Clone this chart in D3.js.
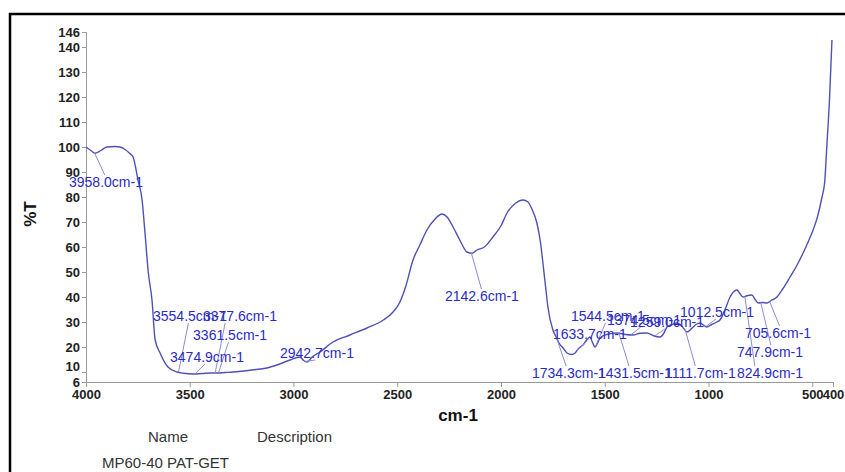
<!DOCTYPE html>
<meta charset="utf-8">
<style>
  body { margin: 0; background: #fff; }
  svg { font-family: Arial, "Liberation Sans", sans-serif; }
</style>
<script src="https://d3js.org/d3.v7.min.js"></script>
<svg width="845" height="472"></svg>
<script>
// spectrum
const wavenumbers = [4000,3975,3957,3930,3900,3860,3836,3812,3790,3773,3750,3730,3716,3700,3682,3667,3643,3605,3561,3530,3484,3440,3400,3369,3330,3292,3200,3128,3080,3017,2969,2950,2935,2910,2872,2810,2728,2646,2567,2520,2487,2460,2424,2390,2357,2320,2284,2260,2231,2200,2164,2140,2116,2080,2039,2000,1971,1930,1894,1870,1850,1827,1810,1798,1785,1774,1750,1734,1720,1701,1680,1660,1643,1625,1605,1585,1571,1560,1547,1535,1523,1490,1441,1400,1364,1330,1297,1265,1234,1215,1200,1175,1152,1125,1104,1080,1060,1040,1020,1008,985,960,945,920,896,880,863,850,834,815,791,775,761,740,718,700,670,640,607,575,544,520,496,475,453,440,430,417,405];
const transmittance = [100,98.5,97.5,98.5,100,100.2,100,99,97.5,96,87,79,66,50,38.8,23,17.6,12,10,9.5,9.2,9.4,9.6,9.6,9.8,10,10.8,11.6,12.8,14.8,16,14.5,14,16,18,22,24.8,27.6,30.8,34,38,44,54.8,61,66.8,71,73.2,72,68,63,58,57.5,58.8,60,64,68.5,73.6,77.5,78.8,78,75,69.6,62,53.6,44,36,26.8,24,21.5,19.6,17.5,17,17.6,19.5,20.8,23,24,22,20,21.5,23.6,25,25.6,25,24.8,25.5,25.6,24.5,24,25.5,28,29,29.6,28,26,27.5,29,29.6,28.5,28,29,30,30.8,35,40,42,42.8,41.5,40,40.5,40.8,39,37.6,37.8,37.6,38.5,40,43.5,48,52.5,57.6,62,66.8,72,80,86,100,118.8,142.8];

// peak picks
const peakWn = [3958.0,3554.5,3377.6,3361.5,3474.9,2942.7,2142.6,1734.3,1633.7,1544.5,1431.5,1374.5,1259.0,1111.7,1012.5,824.9,747.9,705.6];
// where each peak label sits, in axis units (wavenumber, %T)
const labelWn = [4082,3677,3436,3484,3595,3065,2270,1851,1750,1663,1533,1489,1378,1210,1137,863,863,824];
const labelT = [84,30.4,30.4,22.8,14,15.6,38.4,7.6,23.2,30.4,7.6,28.8,28,7.6,32,7.6,16,23.6];

const xTicks = [4000,3500,3000,2500,2000,1500,1000,500,400];
const yTicks = [6,10,20,30,40,50,60,70,80,90,100,110,120,130,140,146];

const svg = d3.select('svg');

// outer frame (top and left edges only)
svg.append('path')
  .attr('d', 'M10,472V14H845')
  .attr('fill', 'none')
  .attr('stroke', '#000')
  .attr('stroke-width', 2.5);

const x = d3.scaleLinear().domain([4000, 400]).range([86, 833]);
const y = d3.scaleLinear().domain([6, 146]).range([382, 32]);

const xAxis = svg.append('g')
  .attr('transform', `translate(0,${y(6)})`)
  .call(d3.axisBottom(x).tickValues(xTicks).tickSize(5).tickPadding(3).tickFormat(d3.format('d')));
const yAxis = svg.append('g')
  .attr('transform', `translate(${x(4000)},0)`)
  .call(d3.axisLeft(y).tickValues(yTicks).tickSize(4).tickPadding(2).tickFormat(d3.format('d')));

[xAxis, yAxis].forEach(a => {
  a.select('.domain').attr('stroke', '#999');
  a.selectAll('.tick line').attr('stroke', '#999');
  a.selectAll('.tick text')
    .attr('fill', '#222')
    .attr('font-size', 13)
    .attr('font-weight', 'bold')
    .attr('font-family', 'Arial, "Liberation Sans", sans-serif');
});
// the "10" label is nudged up so it clears "6"
yAxis.selectAll('.tick').filter(d => d === 10).select('text').attr('y', -6);

// spectrum
const pts = wavenumbers.map((w, i) => [w, transmittance[i]]);
svg.append('path')
  .datum(pts)
  .attr('fill', 'none')
  .attr('stroke', '#5050b4')
  .attr('stroke-width', 1.4)
  .attr('d', d3.line().x(d => x(d[0])).y(d => y(d[1])).curve(d3.curveMonotoneX));

// value on curve at wavenumber w (linear interpolation)
const curveAt = w => {
  for (let i = 1; i < wavenumbers.length; i++) {
    if (wavenumbers[i] <= w) {
      const t = (w - wavenumbers[i - 1]) / (wavenumbers[i] - wavenumbers[i - 1]);
      return transmittance[i - 1] + t * (transmittance[i] - transmittance[i - 1]);
    }
  }
  return transmittance[transmittance.length - 1];
};

// peak labels with leader lines
const labels = svg.append('g');
peakWn.forEach((w, i) => {
  const px = x(w), py = y(curveAt(w));
  const lx = x(labelWn[i]), ly = y(labelT[i]);
  const txt = labels.append('text')
    .attr('x', lx)
    .attr('y', ly)
    .attr('font-size', 14)
    .attr('fill', '#2b2bc4')
    .text(d3.format('.1f')(w) + 'cm-1');
  const bb = txt.node().getBBox();
  const ex = Math.max(bb.x + 2, Math.min(bb.x + bb.width - 2, px + 10));
  const ey = py < bb.y ? bb.y + 1 : bb.y + bb.height - 1;
  labels.insert('line', 'text')
    .attr('x1', px).attr('y1', py)
    .attr('x2', ex).attr('y2', ey)
    .attr('stroke', '#8c8cd0')
    .attr('stroke-width', 1);
});

// axis titles
svg.append('text')
  .attr('x', 458).attr('y', 421)
  .attr('text-anchor', 'middle')
  .attr('font-size', 17)
  .attr('font-weight', 'bold')
  .attr('fill', '#111')
  .text('cm-1');
svg.append('text')
  .attr('transform', 'translate(36,214) rotate(-90)')
  .attr('text-anchor', 'middle')
  .attr('font-size', 17)
  .attr('font-weight', 'bold')
  .attr('fill', '#111')
  .text('%T');

// sample table
const info = svg.append('g').attr('font-size', 15).attr('fill', '#333');
info.append('text').attr('x', 148).attr('y', 442).text('Name');
info.append('text').attr('x', 257).attr('y', 442).text('Description');
info.append('text').attr('x', 102).attr('y', 468).text('MP60-40 PAT-GET');
</script>
